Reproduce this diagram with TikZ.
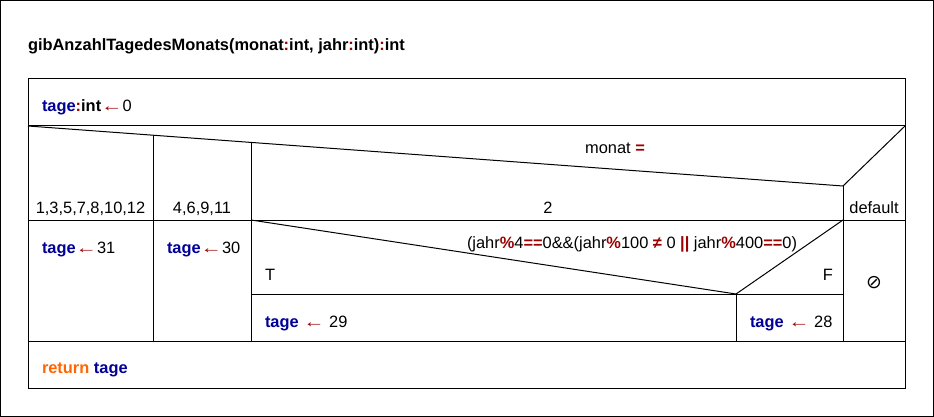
\documentclass[tikz,border=0pt]{standalone}
\usepackage{fontspec}
\setmainfont{Liberation Sans}
\newfontfamily\symfont{DejaVu Sans}
\usetikzlibrary{positioning}
\definecolor{kwblue}{RGB}{0,0,153}
\definecolor{opred}{RGB}{153,0,0}
\definecolor{retorange}{RGB}{255,102,0}
\newcommand{\tg}{\textcolor{kwblue}{\textbf{tage}}}
\newcommand{\op}[1]{\textcolor{opred}{\textbf{#1}}}
\newcommand{\asg}{\textcolor{opred}{\scalebox{1.3}[1]{←}}}

\begin{document}
\begin{tikzpicture}[x=0.75pt,y=-0.75pt,line width=0.75pt,font=\fontsize{12.3}{14}\selectfont]
  \tikzstyle{txt}=[inner sep=0pt,outer sep=0pt]
  \tikzstyle{lft}=[txt,anchor=base west]
  \tikzstyle{ctr}=[txt,anchor=base]
  \tikzstyle{rgt}=[txt,anchor=base east]

  \useasboundingbox (0,0) rectangle (934,417);
  \draw (0.5,0.5) rectangle (933.5,416.5);

  % header
  \node [lft] (title) at (28,51) {\textbf{gibAnzahlTagedesMonats(monat\op{:}int, jahr\op{:}int)\op{:}int}};

  % frame of the structogram
  \draw (28,79) rectangle (905,388);
  \draw (28,126) -- (905,126);
  \draw (28,220) -- (905,220);
  \draw (28,341) -- (905,341);

  % case monat
  \coordinate (caseL) at (28,126);
  \coordinate (caseV) at (843,186);
  \coordinate (caseR) at (905,126);
  \draw (caseL) -- (caseV) -- (caseR);
  \draw (153,135.2) -- (153,341);
  \draw (251,142.4) -- (251,341);
  \draw (caseV) -- (843,341);

  % if leap year
  \coordinate (ifL) at (251,220);
  \coordinate (ifV) at (736,294);
  \coordinate (ifR) at (843,220);
  \draw (ifL) -- (ifV) -- (ifR);
  \draw (251,294) -- (843,294);
  \draw (ifV) -- (736,341);

  % texts
  \node [lft] (init) at (42,112) {\tg\op{:}\textbf{int}\asg0};
  \node [ctr] (sel) at (615,154) {monat \op{=}};
  \node [ctr] (c1) at (90.5,213) {1,3,5,7,8,10,12};
  \node [ctr] (c2) at (202,213) {4,6,9,11};
  \node [ctr] (c3) at (548,213) {2};
  \node [ctr] (c4) at (874,213) {default};

  \node [lft] (s1) at (42,253) {\tg\asg31};
  \node [lft] (s2) at (167,253) {\tg\asg30};
  \node [ctr] (cond) at (632,248) {(jahr\op{\%}4\op{==}0\&\&(jahr\op{\%}100 \op{≠} 0 \op{||} jahr\op{\%}400\op{==}0)};
  \node [lft] (yes) at (265,280) {T};
  \node [rgt] (no) at (833,280) {F};
  \node [lft] (s3) at (265,327) {\tg{} \asg{} 29};
  \node [lft] (s4) at (750,327) {\tg{} \asg{} 28};
  \node [txt,scale=1.15] (nop) at (874,283) {\symfont ⊘};

  \node [lft] (ret) at (42,373) {\textcolor{retorange}{\textbf{return}} \tg};
\end{tikzpicture}
\end{document}
